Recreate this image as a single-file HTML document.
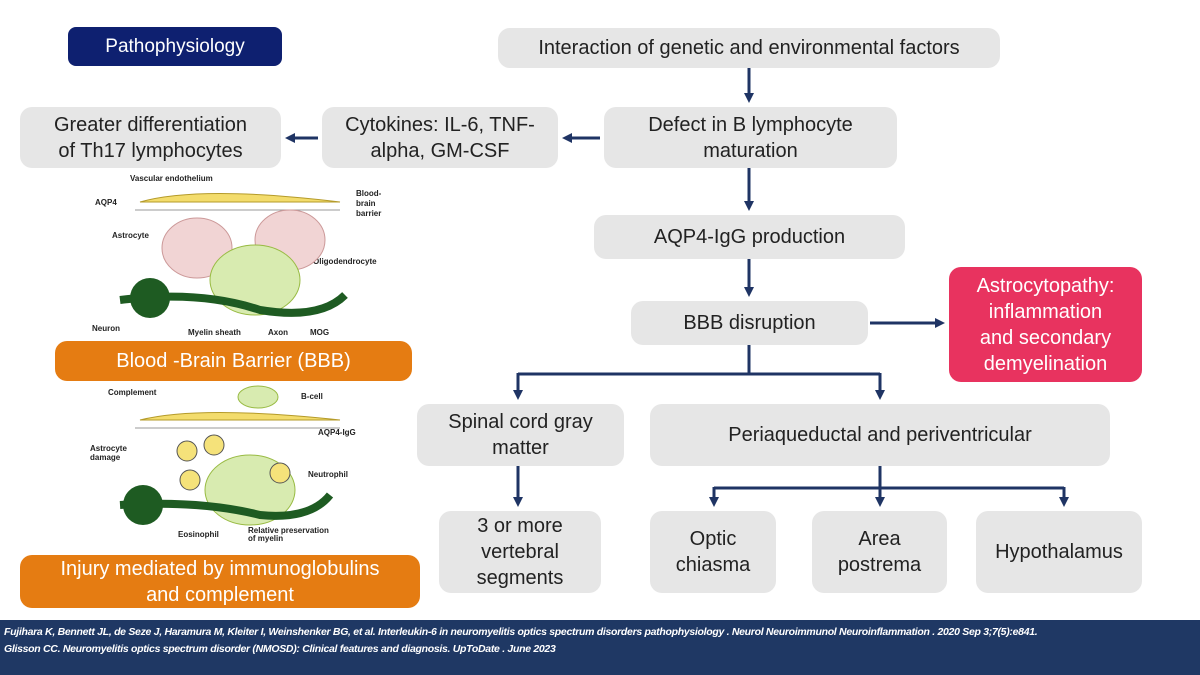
<!DOCTYPE html>
<html><head><meta charset="utf-8"><style>
body{margin:0;width:1200px;height:675px;background:#fff;position:relative;overflow:hidden;font-family:"Liberation Sans",sans-serif}
.b{position:absolute;background:#e6e6e6;border-radius:12px;display:flex;align-items:center;justify-content:center;text-align:center;color:#222;font-size:20px;line-height:26px}
.o{background:#e57c12;color:#fff}
svg{position:absolute;left:0;top:0}
</style></head><body>
<div class="b" style="left:68px;top:27px;width:214px;height:39px;background:#0e2070;color:#fff;font-size:19px;border-radius:8px">Pathophysiology</div>
<div class="b" style="left:498px;top:28px;width:502px;height:40px">Interaction of genetic and environmental factors</div>
<div class="b" style="left:20px;top:107px;width:261px;height:61px">Greater differentiation<br>of Th17 lymphocytes</div>
<div class="b" style="left:322px;top:107px;width:236px;height:61px">Cytokines: IL-6, TNF-<br>alpha, GM-CSF</div>
<div class="b" style="left:604px;top:107px;width:293px;height:61px">Defect in B lymphocyte<br>maturation</div>
<div class="b" style="left:594px;top:215px;width:311px;height:44px">AQP4-IgG production</div>
<div class="b" style="left:631px;top:301px;width:237px;height:44px">BBB disruption</div>
<div class="b" style="left:949px;top:267px;width:193px;height:115px;background:#e8335f;color:#fff">Astrocytopathy:<br>inflammation<br>and secondary<br>demyelination</div>
<div class="b" style="left:417px;top:404px;width:207px;height:62px">Spinal cord gray<br>matter</div>
<div class="b" style="left:650px;top:404px;width:460px;height:62px">Periaqueductal and periventricular</div>
<div class="b" style="left:439px;top:511px;width:162px;height:82px">3 or more<br>vertebral<br>segments</div>
<div class="b" style="left:650px;top:511px;width:126px;height:82px">Optic<br>chiasma</div>
<div class="b" style="left:812px;top:511px;width:135px;height:82px">Area<br>postrema</div>
<div class="b" style="left:976px;top:511px;width:166px;height:82px">Hypothalamus</div>
<div class="b o" style="left:55px;top:341px;width:357px;height:40px">Blood -Brain Barrier (BBB)</div>
<div class="b o" style="left:20px;top:555px;width:400px;height:53px">Injury mediated by immunoglobulins<br>and complement</div>
<svg width="1200" height="620">
<defs><marker id="a" markerWidth="10" markerHeight="10" refX="6" refY="5" orient="auto" markerUnits="userSpaceOnUse"><path d="M0,0 L10,5 L0,10 z" fill="#1f3464"/></marker></defs>
<g stroke="#1f3464" stroke-width="3" fill="none">
<line x1="749" y1="68" x2="749" y2="99" marker-end="url(#a)"/>
<line x1="600" y1="138" x2="566" y2="138" marker-end="url(#a)"/>
<line x1="318" y1="138" x2="289" y2="138" marker-end="url(#a)"/>
<line x1="749" y1="168" x2="749" y2="207" marker-end="url(#a)"/>
<line x1="749" y1="259" x2="749" y2="293" marker-end="url(#a)"/>
<line x1="870" y1="323" x2="941" y2="323" marker-end="url(#a)"/>
<path d="M749 345 V374 M518 374 H880"/>
<line x1="518" y1="373" x2="518" y2="396" marker-end="url(#a)"/>
<line x1="880" y1="373" x2="880" y2="396" marker-end="url(#a)"/>
<line x1="518" y1="466" x2="518" y2="503" marker-end="url(#a)"/>
<path d="M880 466 V488 M714 488 H1064"/>
<line x1="714" y1="487" x2="714" y2="503" marker-end="url(#a)"/>
<line x1="880" y1="487" x2="880" y2="503" marker-end="url(#a)"/>
<line x1="1064" y1="487" x2="1064" y2="503" marker-end="url(#a)"/>
</g>
<g font-size="8" font-weight="bold" fill="#222">
<text x="130" y="181">Vascular endothelium</text><text x="95" y="205">AQP4</text><text x="356" y="196">Blood-</text><text x="356" y="206">brain</text><text x="356" y="216">barrier</text>
<text x="112" y="238">Astrocyte</text><text x="313" y="264">Oligodendrocyte</text><text x="92" y="331">Neuron</text><text x="188" y="335">Myelin sheath</text><text x="268" y="335">Axon</text><text x="310" y="335">MOG</text>
<text x="108" y="395">Complement</text><text x="301" y="399">B-cell</text><text x="318" y="435">AQP4-IgG</text><text x="90" y="451">Astrocyte</text><text x="90" y="460">damage</text><text x="308" y="477">Neutrophil</text><text x="178" y="537">Eosinophil</text><text x="248" y="533">Relative preservation</text><text x="248" y="541">of myelin</text>
</g>
<g>
<path d="M140 202 Q200 185 340 202 Z" fill="#f3dc6c" stroke="#b59b2a"/>
<line x1="135" y1="210" x2="340" y2="210" stroke="#999"/>
<ellipse cx="197" cy="248" rx="35" ry="30" fill="#f1d4d4" stroke="#c99"/>
<ellipse cx="290" cy="240" rx="35" ry="30" fill="#f1d4d4" stroke="#c99"/>
<ellipse cx="255" cy="280" rx="45" ry="35" fill="#d8ebb0" stroke="#9b4"/>
<path d="M120 300 Q200 290 260 310 Q320 320 345 295" stroke="#1e5b22" stroke-width="8" fill="none"/>
<circle cx="150" cy="298" r="20" fill="#1e5b22"/>
<path d="M140 420 Q200 405 340 420 Z" fill="#f3dc6c" stroke="#b59b2a"/>
<line x1="135" y1="428" x2="340" y2="428" stroke="#999"/>
<ellipse cx="250" cy="490" rx="45" ry="35" fill="#d8ebb0" stroke="#9b4"/>
<circle cx="187" cy="451" r="10" fill="#f5e27a" stroke="#555"/><circle cx="214" cy="445" r="10" fill="#f5e27a" stroke="#555"/><circle cx="280" cy="473" r="10" fill="#f5e27a" stroke="#555"/><circle cx="190" cy="480" r="10" fill="#f5e27a" stroke="#555"/>
<path d="M120 505 Q200 500 260 515 Q310 520 330 495" stroke="#1e5b22" stroke-width="8" fill="none"/>
<circle cx="143" cy="505" r="20" fill="#1e5b22"/>
<ellipse cx="258" cy="397" rx="20" ry="11" fill="#d8ebb0" stroke="#9b4"/>
</g>
</svg>
<div style="position:absolute;left:0;top:620px;width:1200px;height:55px;background:#1f3864;color:#fff;font-style:italic;font-weight:bold;font-size:10.5px;line-height:17px;padding:4px 0 0 4px;box-sizing:border-box;letter-spacing:-0.3px">Fujihara K, Bennett JL, de Seze J, Haramura M, Kleiter I, Weinshenker BG, et al. Interleukin-6 in neuromyelitis optics spectrum disorders pathophysiology . Neurol Neuroimmunol Neuroinflammation . 2020 Sep 3;7(5):e841.<br>Glisson CC. Neuromyelitis optics spectrum disorder (NMOSD): Clinical features and diagnosis. UpToDate . June 2023</div>
</body></html>
